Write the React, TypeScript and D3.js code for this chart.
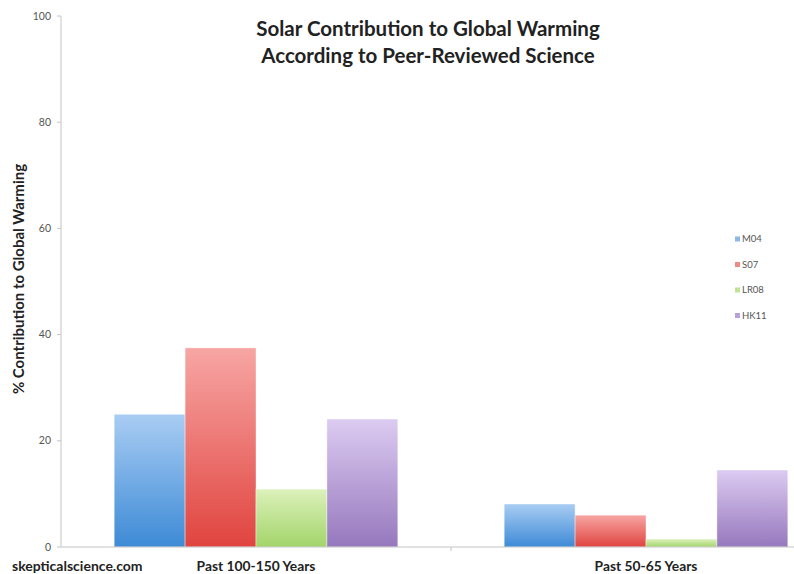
import React from 'react';
import * as d3 from 'd3';

const categories = ['Past 100-150 Years', 'Past 50-65 Years'];
const seriesNames = ['M04', 'S07', 'LR08', 'HK11'];
const m04 = [25.0, 8.1];
const s07 = [37.5, 6.0];
const lr08 = [10.9, 1.5];
const hk11 = [24.1, 14.5];
const yTicks = [0, 20, 40, 60, 80, 100];

const seriesValues = [m04, s07, lr08, hk11];
const COLORS = [
  { top: '#a9cdf3', bottom: '#3d8ad6', legend: '#8db8e4' },
  { top: '#f7a6a4', bottom: '#e0443f', legend: '#ee8a88' },
  { top: '#dcf1bb', bottom: '#a3d46a', legend: '#bfe295' },
  { top: '#dccbf1', bottom: '#9678bd', legend: '#b6a2d6' },
];

const W = 794;
const H = 574;
const margin = { left: 61, top: 16, bottomY: 547 };
const plotRight = 841; // the plot area runs past the picture's right edge

export default function App() {
  const y = d3.scaleLinear().domain([0, 100]).range([margin.bottomY, margin.top]);
  const x0 = d3.scaleBand<string>().domain(categories).range([margin.left, plotRight]).padding(0);
  const x1 = d3
    .scaleBand<string>()
    .domain(seriesNames)
    .range([0, x0.bandwidth()])
    .paddingInner(0)
    .paddingOuter(0.75);

  const font = 'Lato, "Open Sans", sans-serif';

  return (
    <svg
      width={W}
      height={H}
      style={{ position: 'absolute', left: 0, top: 0, background: '#fff' }}
    >
      <defs>
        {COLORS.map((c, i) => (
          <linearGradient key={i} id={`grad-${i}`} x1="0%" y1="0%" x2="0%" y2="100%">
            <stop offset="0%" stopColor={c.top} />
            <stop offset="100%" stopColor={c.bottom} />
          </linearGradient>
        ))}
      </defs>

      {/* title */}
      <text x={428} y={36} textAnchor="middle" fontFamily={font} fontWeight="bold" fontSize={20.5} fill="#222">
        Solar Contribution to Global Warming
      </text>
      <text x={428} y={63} textAnchor="middle" fontFamily={font} fontWeight="bold" fontSize={20.5} fill="#222">
        According to Peer-Reviewed Science
      </text>

      {/* bars */}
      {categories.map((cat, ci) => (
        <g key={cat} transform={`translate(${x0(cat)},0)`}>
          {seriesNames.map((s, si) => {
            const v = seriesValues[si][ci];
            return (
              <rect
                key={s}
                x={x1(s)}
                y={y(v)}
                width={x1.bandwidth()}
                height={y(0) - y(v)}
                fill={`url(#grad-${si})`}
                stroke="#ffffff"
                strokeOpacity={0.5}
                strokeWidth={0.8}
              />
            );
          })}
        </g>
      ))}

      {/* y axis */}
      <line x1={margin.left} x2={margin.left} y1={y(100)} y2={y(0)} stroke="#c4c4c4" />
      {yTicks.map((t) => (
        <g key={t}>
          <line x1={margin.left - 4} x2={margin.left} y1={y(t)} y2={y(t)} stroke="#c4c4c4" />
          <text
            x={margin.left - 10}
            y={y(t)}
            dy="0.35em"
            textAnchor="end"
            fontFamily={font}
            fontSize={10.5}
            fill="#555"
          >
            {t}
          </text>
        </g>
      ))}

      {/* x axis */}
      <line x1={margin.left} x2={plotRight} y1={y(0)} y2={y(0)} stroke="#c4c4c4" />
      {categories.slice(1).map((cat) => (
        <line key={cat} x1={x0(cat)} x2={x0(cat)} y1={y(0)} y2={y(0) + 4} stroke="#c4c4c4" />
      ))}
      {categories.map((cat) => (
        <text
          key={cat}
          x={(x0(cat) ?? 0) + x0.bandwidth() / 2}
          y={571}
          textAnchor="middle"
          fontFamily={font}
          fontWeight="bold"
          fontSize={13.8}
          fill="#222"
        >
          {cat}
        </text>
      ))}

      {/* y axis title */}
      <text
        transform={`translate(24,279) rotate(-90)`}
        textAnchor="middle"
        fontFamily={font}
        fontWeight="bold"
        fontSize={15}
        fill="#222"
      >
        % Contribution to Global Warming
      </text>

      {/* source */}
      <text x={12} y={571} fontFamily={font} fontWeight="bold" fontSize={14} fill="#222">
        skepticalscience.com
      </text>

      {/* legend */}
      {seriesNames.map((s, i) => (
        <g key={s} transform={`translate(735,${239 + i * 25.5})`}>
          <rect x={0} y={-2.5} width={5} height={5} fill={COLORS[i].legend} />
          <text x={7} y={0} dy="0.35em" fontFamily={font} fontSize={9.5} fill="#555">
            {s}
          </text>
        </g>
      ))}
    </svg>
  );
}
